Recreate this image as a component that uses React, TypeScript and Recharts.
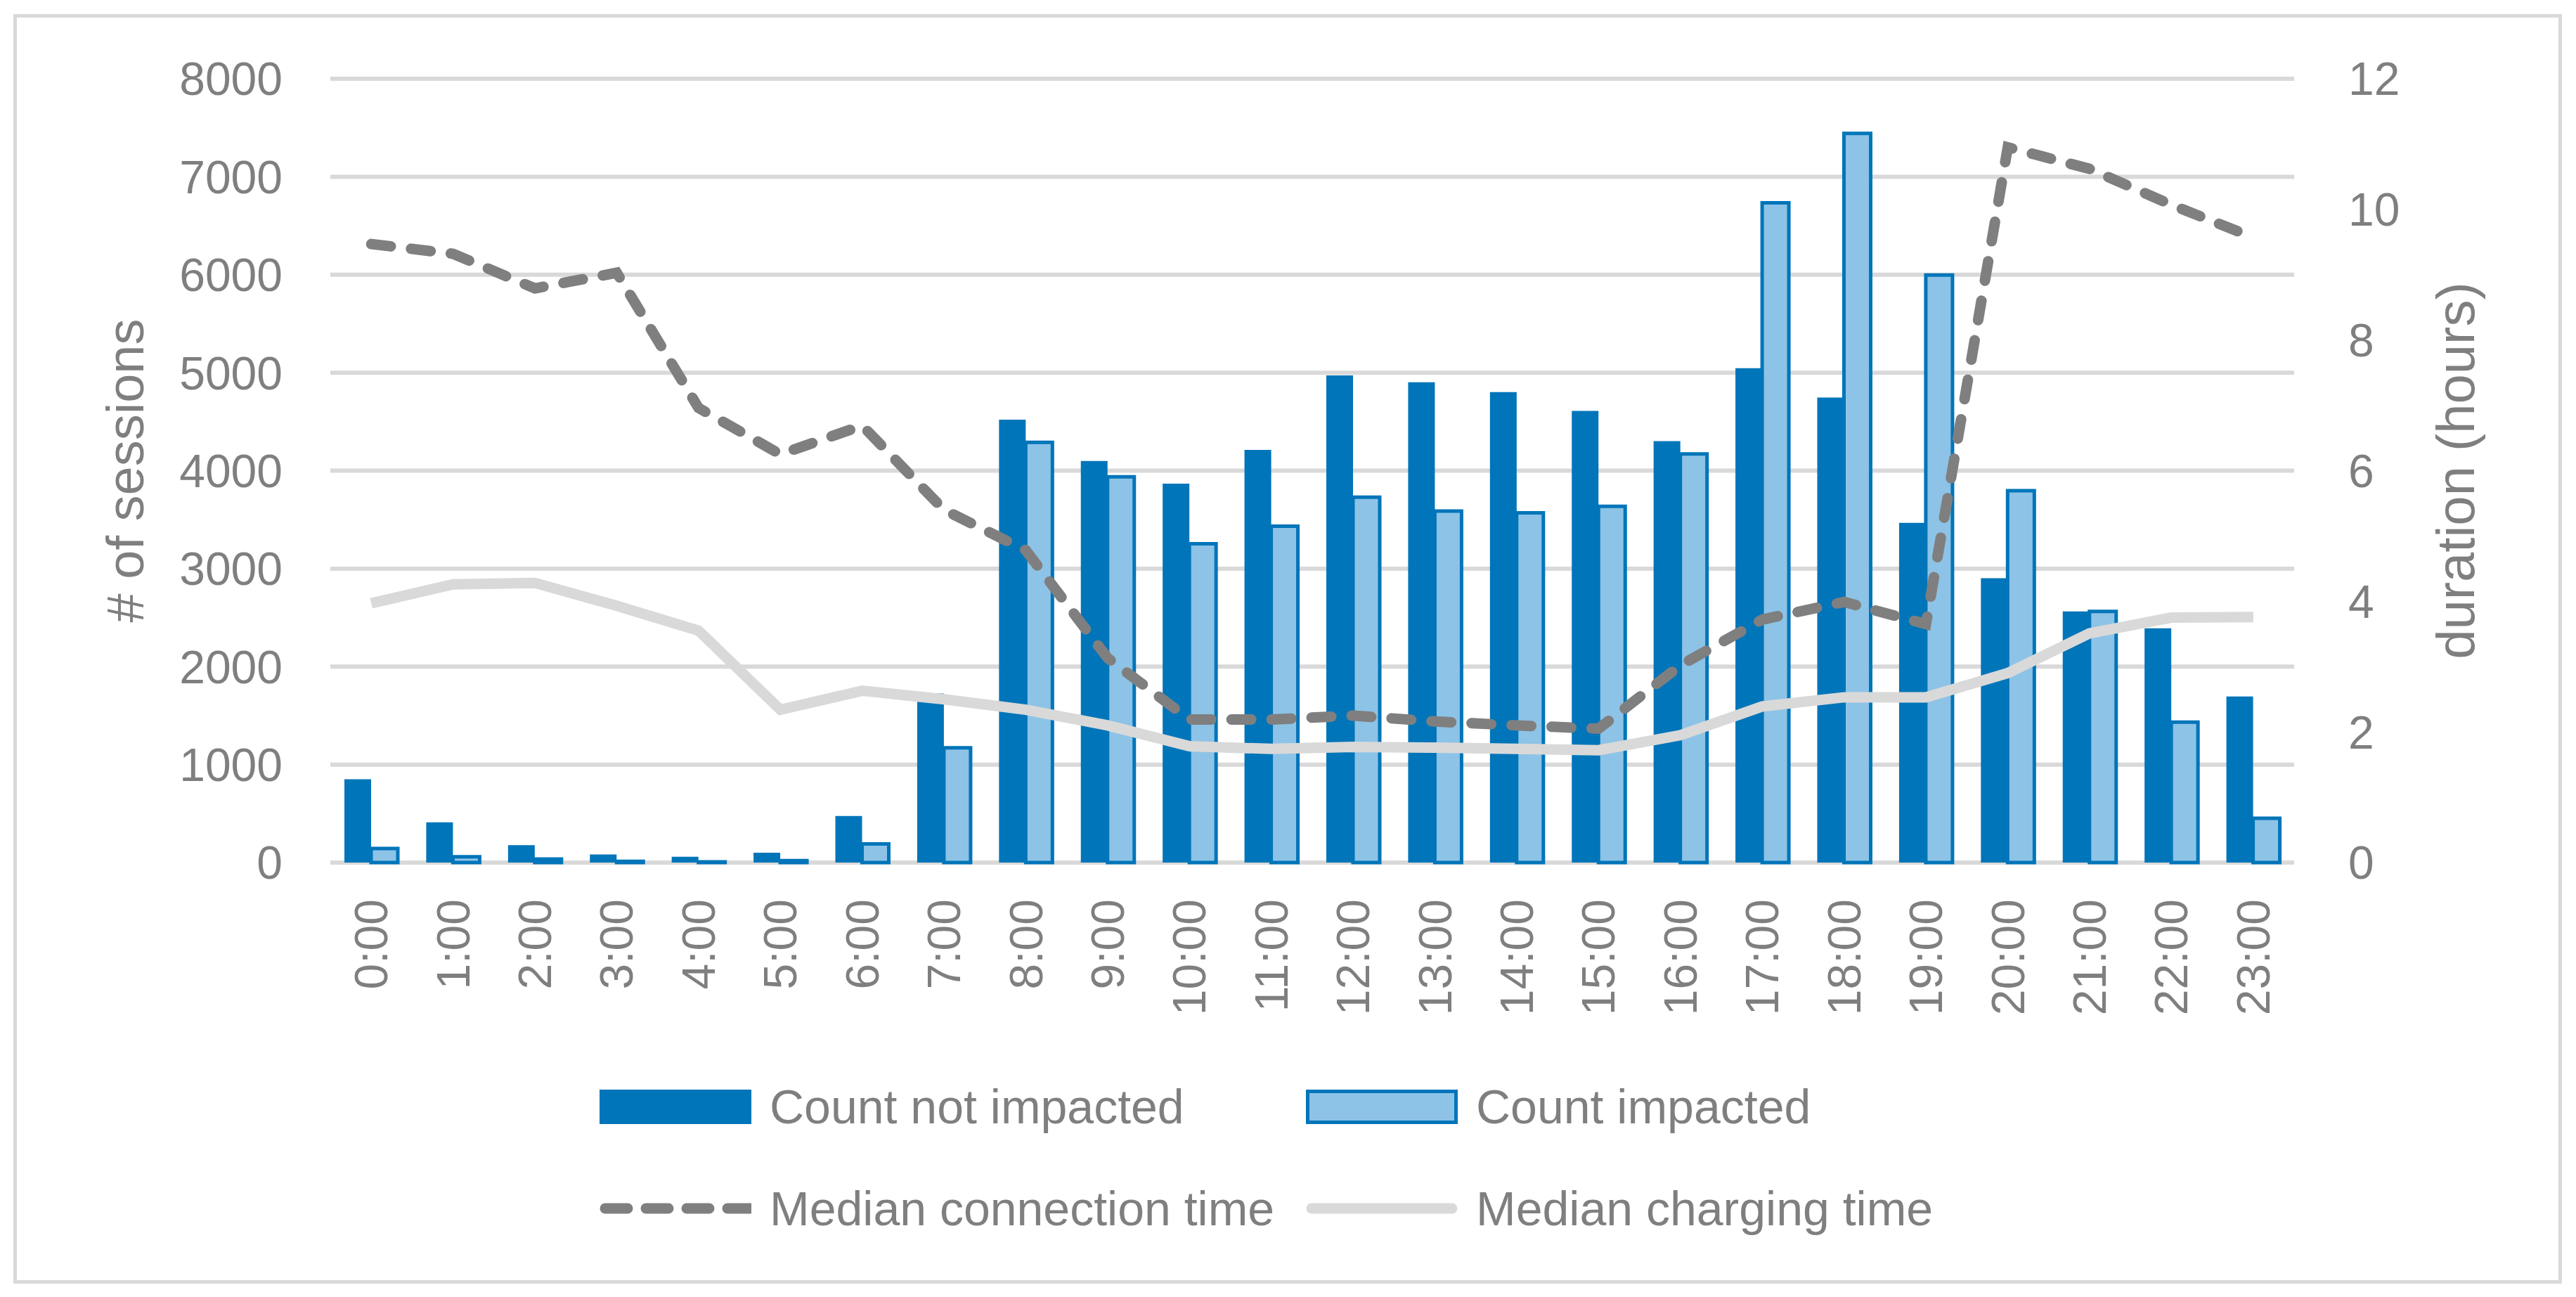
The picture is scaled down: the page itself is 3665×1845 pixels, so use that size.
import React from "react";
import {
  ComposedChart,
  Bar,
  Line,
  XAxis,
  YAxis,
  CartesianGrid,
  Legend,
} from "recharts";

const hours = [
  "0:00", "1:00", "2:00", "3:00", "4:00", "5:00", "6:00", "7:00",
  "8:00", "9:00", "10:00", "11:00", "12:00", "13:00", "14:00", "15:00",
  "16:00", "17:00", "18:00", "19:00", "20:00", "21:00", "22:00", "23:00",
];

const countNotImpacted = [
  851, 410, 178, 83, 60, 100, 476, 1725, 4521, 4099, 3867, 4212,
  4973, 4902, 4801, 4610, 4301, 5045, 4747, 3468, 2903, 2564, 2391, 1695,
];

const countImpacted = [
  143, 60, 36, 12, 8, 20, 190, 1172, 4289, 3938, 3254, 3433,
  3730, 3587, 3569, 3635, 4170, 6734, 7442, 5996, 3795, 2564, 1433, 452,
];

const connectionTime = [
  9.47, 9.32, 8.79, 9.03, 6.96, 6.25, 6.69, 5.4, 4.78, 3.13, 2.19, 2.19,
  2.25, 2.16, 2.1, 2.05, 3.02, 3.72, 3.99, 3.65, 10.95, 10.62, 10.07, 9.57,
];

const chargingTime = [
  3.97, 4.26, 4.28, 3.93, 3.55, 2.34, 2.63, 2.5, 2.34, 2.1, 1.78, 1.74,
  1.77, 1.76, 1.74, 1.72, 1.95, 2.39, 2.53, 2.53, 2.9, 3.51, 3.75, 3.76,
];

const sessionTicks = [0, 1000, 2000, 3000, 4000, 5000, 6000, 7000, 8000];
const durationTicks = [0, 2, 4, 6, 8, 10, 12];

const data = hours.map((hour, i) => ({
  hour,
  notImpacted: countNotImpacted[i],
  impacted: countImpacted[i],
  connection: connectionTime[i],
  charging: chargingTime[i],
}));

const FONT = '"Liberation Sans", Arial, sans-serif';
const GREY_TEXT = "#7f7f7f";
const GRID = "#d9d9d9";
const DARK_BLUE = "#0075b9";
const LIGHT_BLUE = "#8dc3e6";
const DASH_GREY = "#7f7f7f";

const series = [
  { key: "notImpacted", name: "Count not impacted", kind: "bar" },
  { key: "impacted", name: "Count impacted", kind: "barOutlined" },
  { key: "connection", name: "Median connection time", kind: "dashed" },
  { key: "charging", name: "Median charging time", kind: "solid" },
];

function HourTick({ x, y, payload }: any) {
  return (
    <text
      x={x}
      y={y}
      transform={`rotate(-90 ${x} ${y})`}
      textAnchor="end"
      dominantBaseline="central"
      fill={GREY_TEXT}
      fontSize={66}
      fontFamily={FONT}
    >
      {payload.value}
    </text>
  );
}

function leftTitle({ viewBox }: any) {
  const x = viewBox.x + 178;
  const y = viewBox.y + viewBox.height / 2;
  return (
    <text
      x={x}
      y={y}
      transform={`rotate(-90 ${x} ${y})`}
      textAnchor="middle"
      dominantBaseline="central"
      fill={GREY_TEXT}
      fontSize={74}
      fontFamily={FONT}
    >
      # of sessions
    </text>
  );
}

function rightTitle({ viewBox }: any) {
  const x = viewBox.x + 229;
  const y = viewBox.y + viewBox.height / 2;
  return (
    <text
      x={x}
      y={y}
      transform={`rotate(-90 ${x} ${y})`}
      textAnchor="middle"
      dominantBaseline="central"
      fill={GREY_TEXT}
      fontSize={76}
      fontFamily={FONT}
    >
      duration (hours)
    </text>
  );
}

function Swatch({ kind }: { kind: string }) {
  return (
    <svg width={216} height={60} style={{ display: "block", flex: "none" }}>
      {kind === "bar" && <rect x={0} y={6} width={216} height={49} fill={DARK_BLUE} />}
      {kind === "barOutlined" && (
        <rect x={2.5} y={8.5} width={211} height={44} fill={LIGHT_BLUE} stroke={DARK_BLUE} strokeWidth={5} />
      )}
      {kind === "dashed" && (
        <line x1={8} y1={30} x2={216} y2={30} stroke={DASH_GREY} strokeWidth={15}
          strokeDasharray="32 26" strokeLinecap="round" />
      )}
      {kind === "solid" && (
        <line x1={8} y1={30} x2={208} y2={30} stroke={GRID} strokeWidth={15} strokeLinecap="round" />
      )}
    </svg>
  );
}

function LegendContent() {
  return (
    <div
      style={{
        display: "grid",
        gridTemplateColumns: "1005px 1005px",
        fontFamily: FONT,
        fontSize: 68,
        color: GREY_TEXT,
      }}
    >
      {series.map((s) => (
        <div key={s.key} style={{ display: "flex", alignItems: "center", height: 145 }}>
          <Swatch kind={s.kind} />
          <span style={{ marginLeft: 26, whiteSpace: "nowrap" }}>{s.name}</span>
        </div>
      ))}
    </div>
  );
}

export default function App() {
  return (
    <div
      style={{
        position: "absolute",
        left: 0,
        top: 0,
        width: 3665,
        height: 1845,
        background: "#fff",
      }}
    >
      <div
        style={{
          position: "absolute",
          left: 19,
          top: 20,
          width: 3626,
          height: 1806,
          boxSizing: "border-box",
          border: `5px solid ${GRID}`,
        }}
      />
      <ComposedChart
        width={3665}
        height={1845}
        data={data}
        margin={{ top: 112, right: 0, bottom: 0, left: 0 }}
        barGap={0}
        barSize={38}
      >
        <CartesianGrid yAxisId="left" vertical={false} stroke={GRID} strokeWidth={6} />
        <XAxis
          dataKey="hour"
          interval={0}
          height={618}
          axisLine={false}
          tickLine={false}
          tickSize={0}
          tickMargin={52}
          tick={<HourTick />}
        />
        <YAxis
          yAxisId="left"
          orientation="left"
          width={470}
          domain={[0, 8000]}
          ticks={sessionTicks}
          axisLine={false}
          tickLine={false}
          tickSize={0}
          tickMargin={68}
          tick={{ fill: GREY_TEXT, fontSize: 66, fontFamily: FONT }}
          label={leftTitle}
        />
        <YAxis
          yAxisId="right"
          orientation="right"
          width={401}
          domain={[0, 12]}
          ticks={durationTicks}
          axisLine={false}
          tickLine={false}
          tickSize={0}
          tickMargin={77}
          tick={{ fill: GREY_TEXT, fontSize: 66, fontFamily: FONT }}
          label={rightTitle}
        />
        <Legend
          layout="horizontal"
          verticalAlign="middle"
          align="center"
          wrapperStyle={{ left: 853, top: 1501, width: 2100 }}
          content={<LegendContent />}
        />
        <Bar
          yAxisId="left"
          dataKey="notImpacted"
          name="Count not impacted"
          fill={DARK_BLUE}
          isAnimationActive={false}
        />
        <Bar
          yAxisId="left"
          dataKey="impacted"
          name="Count impacted"
          fill={LIGHT_BLUE}
          stroke={DARK_BLUE}
          strokeWidth={5}
          isAnimationActive={false}
        />
        <Line
          yAxisId="right"
          type="linear"
          dataKey="connection"
          name="Median connection time"
          stroke={DASH_GREY}
          strokeWidth={15}
          strokeDasharray="28 29"
          strokeLinecap="round"
          dot={false}
          activeDot={false}
          isAnimationActive={false}
        />
        <Line
          yAxisId="right"
          type="linear"
          dataKey="charging"
          name="Median charging time"
          stroke={GRID}
          strokeWidth={15}
          dot={false}
          activeDot={false}
          isAnimationActive={false}
        />
      </ComposedChart>
    </div>
  );
}
